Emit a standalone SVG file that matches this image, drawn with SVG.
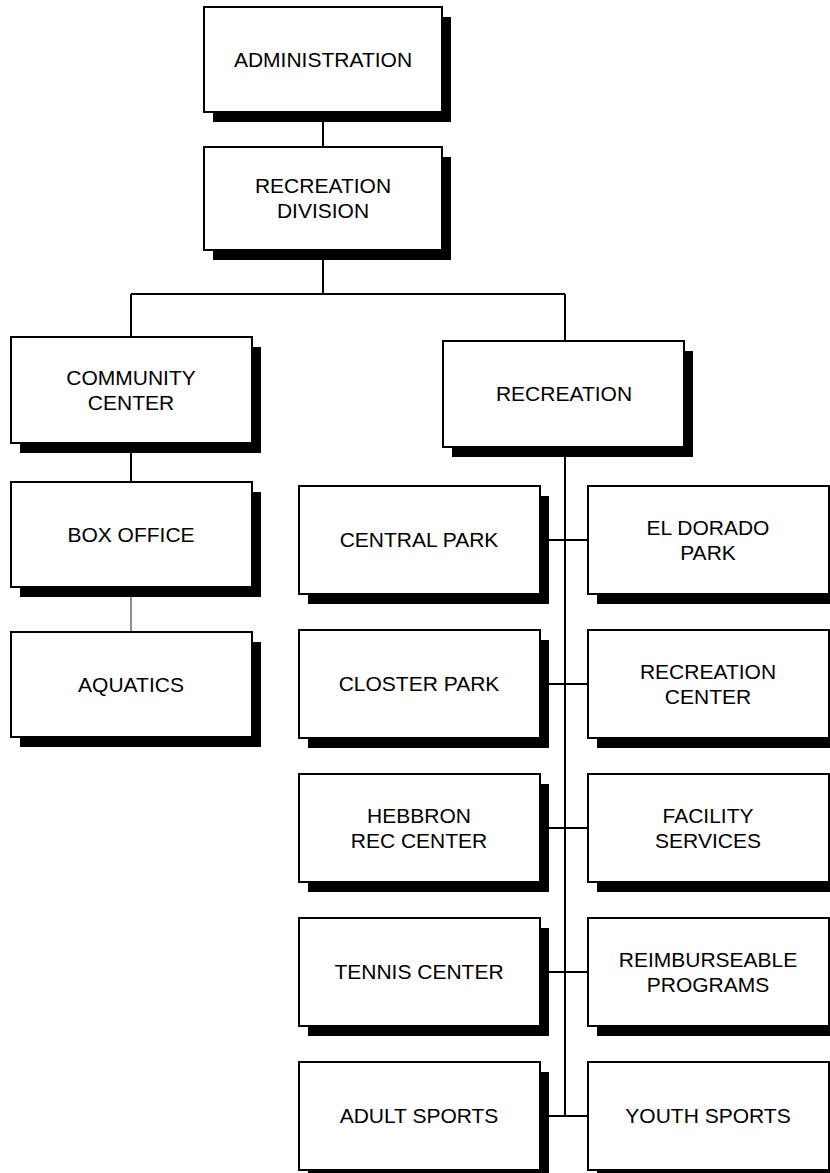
<svg xmlns="http://www.w3.org/2000/svg" width="830" height="1173" viewBox="0 0 830 1173">
<defs>
<style>
.sh{fill:#000}
.bx{fill:#fff;stroke:#000;stroke-width:2}
.t{font-family:"Liberation Sans",Arial,sans-serif;font-size:21px;fill:#000;text-anchor:middle}
.c{stroke:#000;stroke-width:2;fill:none}
.cl{stroke:#444;stroke-width:1.2;fill:none}
</style>
</defs>
<rect width="830" height="1173" fill="#fff"/>
<g id="connectors">
<path class="c" d="M323,112V147"/>
<path class="c" d="M323,250V294"/>
<path class="c" d="M131,294H565"/>
<path class="c" d="M131,294V337"/>
<path class="c" d="M565,294V341"/>
<path class="c" d="M131,443V482"/>
<path class="cl" d="M131,587V632"/>
<path class="c" d="M565,447V1116"/>
<path class="c" d="M540,540H588"/>
<path class="c" d="M540,684H588"/>
<path class="c" d="M540,828H588"/>
<path class="c" d="M540,972H588"/>
<path class="c" d="M540,1116H588"/>
</g>
<g id="administration">
<rect class="sh" x="213" y="17" width="238" height="105"/>
<rect class="bx" x="204" y="7" width="238" height="105"/>
<text class="t" x="323" y="67">ADMINISTRATION</text>
</g>
<g id="recreation-division">
<rect class="sh" x="213" y="157" width="238" height="103"/>
<rect class="bx" x="204" y="147" width="238" height="103"/>
<text class="t" x="323" y="193">RECREATION</text>
<text class="t" x="323" y="218">DIVISION</text>
</g>
<g id="community-center">
<rect class="sh" x="20" y="347" width="241" height="106"/>
<rect class="bx" x="11" y="337" width="241" height="106"/>
<text class="t" x="131" y="385">COMMUNITY</text>
<text class="t" x="131" y="410">CENTER</text>
</g>
<g id="recreation">
<rect class="sh" x="452" y="351" width="241" height="106"/>
<rect class="bx" x="443" y="341" width="241" height="106"/>
<text class="t" x="564" y="401">RECREATION</text>
</g>
<g id="box-office">
<rect class="sh" x="20" y="492" width="241" height="105"/>
<rect class="bx" x="11" y="482" width="241" height="105"/>
<text class="t" x="131" y="542">BOX OFFICE</text>
</g>
<g id="aquatics">
<rect class="sh" x="20" y="642" width="241" height="105"/>
<rect class="bx" x="11" y="632" width="241" height="105"/>
<text class="t" x="131" y="692">AQUATICS</text>
</g>
<g id="central-park">
<rect class="sh" x="308" y="496" width="241" height="108"/>
<rect class="bx" x="299" y="486" width="241" height="108"/>
<text class="t" x="419" y="547">CENTRAL PARK</text>
</g>
<g id="el-dorado-park">
<rect class="sh" x="597" y="496" width="241" height="108"/>
<rect class="bx" x="588" y="486" width="241" height="108"/>
<text class="t" x="708" y="535">EL DORADO</text>
<text class="t" x="708" y="560">PARK</text>
</g>
<g id="closter-park">
<rect class="sh" x="308" y="640" width="241" height="108"/>
<rect class="bx" x="299" y="630" width="241" height="108"/>
<text class="t" x="419" y="691">CLOSTER PARK</text>
</g>
<g id="recreation-center">
<rect class="sh" x="597" y="640" width="241" height="108"/>
<rect class="bx" x="588" y="630" width="241" height="108"/>
<text class="t" x="708" y="679">RECREATION</text>
<text class="t" x="708" y="704">CENTER</text>
</g>
<g id="hebbron-rec-center">
<rect class="sh" x="308" y="784" width="241" height="108"/>
<rect class="bx" x="299" y="774" width="241" height="108"/>
<text class="t" x="419" y="823">HEBBRON</text>
<text class="t" x="419" y="848">REC CENTER</text>
</g>
<g id="facility-services">
<rect class="sh" x="597" y="784" width="241" height="108"/>
<rect class="bx" x="588" y="774" width="241" height="108"/>
<text class="t" x="708" y="823">FACILITY</text>
<text class="t" x="708" y="848">SERVICES</text>
</g>
<g id="tennis-center">
<rect class="sh" x="308" y="928" width="241" height="108"/>
<rect class="bx" x="299" y="918" width="241" height="108"/>
<text class="t" x="419" y="979">TENNIS CENTER</text>
</g>
<g id="reimburseable-programs">
<rect class="sh" x="597" y="928" width="241" height="108"/>
<rect class="bx" x="588" y="918" width="241" height="108"/>
<text class="t" x="708" y="967">REIMBURSEABLE</text>
<text class="t" x="708" y="992">PROGRAMS</text>
</g>
<g id="adult-sports">
<rect class="sh" x="308" y="1072" width="241" height="108"/>
<rect class="bx" x="299" y="1062" width="241" height="108"/>
<text class="t" x="419" y="1123">ADULT SPORTS</text>
</g>
<g id="youth-sports">
<rect class="sh" x="597" y="1072" width="241" height="108"/>
<rect class="bx" x="588" y="1062" width="241" height="108"/>
<text class="t" x="708" y="1123">YOUTH SPORTS</text>
</g>
</svg>
